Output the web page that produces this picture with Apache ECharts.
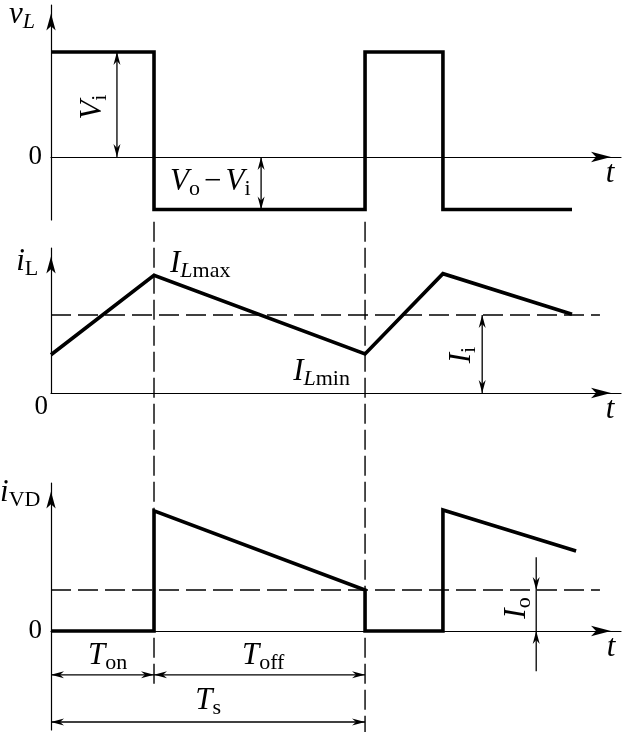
<!DOCTYPE html>
<html><head><meta charset="utf-8">
<script src="https://cdn.jsdelivr.net/npm/echarts@6/dist/echarts.min.js"></script>
<style>html,body{margin:0;padding:0;background:#fff}#c{width:625px;height:732px}</style>
</head><body><div id="c"></div>
<script>
// ---------------- data ----------------
const tOn = 3.28;          // end of T_on
const tS = 10.0;           // end of T_s
const tMax = 18.15;        // x-axis extent
const vLTime  = [0, 3.28, 3.28, 10.0, 10.0, 12.48, 12.48, 16.59];
const vLValue = [1, 1, -0.5, -0.5, 1, 1, -0.5, -0.5];
const iLTime  = [0, 3.28, 10.0, 12.48, 16.59];
const iLValue = [0.49, 1.51, 0.50, 1.53, 1.01];
const iLAvg = 1.0;         // I_i
const iVDTime  = [0, 3.28, 3.28, 10.0, 10.0, 12.48, 12.48, 16.72];
const iVDValue = [0, 0, 2.93, 1.0, 0, 0, 2.95, 1.95];
const iVDAvg = 1.0;        // I_o
const avgEnd = 17.48;
const zeroTick = [0];
const yRange1 = [-0.6, 1.448];
const yRange2 = [0, 1.859];
const yRange3 = [-2.415, 3.61];

// ---------------- styles ----------------
const F = 31, S = 22, P = 12;
const FONT = 'Liberation Serif';
const rich = {
  it:   {fontFamily: FONT, fontStyle: 'italic', fontSize: F, lineHeight: F, verticalAlign: 'top', fill: '#000'},
  rm:   {fontFamily: FONT, fontSize: F, lineHeight: F, verticalAlign: 'top', fill: '#000', padding: [0, 4, 0, 4]},
  sub:  {fontFamily: FONT, fontSize: S, lineHeight: S, verticalAlign: 'top', fill: '#000', padding: [P, 0, 0, 0]},
  subIt:{fontFamily: FONT, fontStyle: 'italic', fontSize: S, lineHeight: S, verticalAlign: 'top', fill: '#000', padding: [P, 0, 0, 0]}
};

const zip = (a, b) => a.map((v, i) => [v, b[i]]);

// annotation texts (positions in data units of each panel)
const texts1 = [
  {x: -1.34, y: 1.352, text: '{it|v}{subIt|L}'},
  {x: 17.8, y: -0.162, text: '{it|t}', align: 'center'},
  {x: 1.34, y: 0.476, text: '{it|V}{sub|i}', rotate: true},
  {x: 3.79, y: -0.238, text: '{it|V}{sub|o}{rm|−}{it|V}{sub|i}'}
];
const texts2 = [
  {x: -1.11, y: 1.679, text: '{it|i}{sub|L}'},
  {x: 3.79, y: 1.654, text: '{it|I}{subIt|L}{sub|max}'},
  {x: 7.71, y: 0.269, text: '{it|I}{subIt|L}{sub|min}'},
  {x: 13.09, y: 0.487, text: '{it|I}{sub|i}', rotate: true},
  {x: 17.8, y: -0.218, text: '{it|t}', align: 'center'}
];
const texts3 = [
  {x: -1.62, y: 3.366, text: '{it|i}{sub|VD}'},
  {x: 17.83, y: -0.415, text: '{it|t}', align: 'center'},
  {x: 14.84, y: 0.561, text: '{it|I}{sub|o}', rotate: true},
  {x: 1.18, y: -0.61, text: '{it|T}{sub|on}'},
  {x: 6.08, y: -0.61, text: '{it|T}{sub|off}'},
  {x: 4.59, y: -1.707, text: '{it|T}{sub|s}'}
];
// dimension arrows: [x1, y1, x2, y2, headAtStart, headAtEnd]
const arrows1 = [[2.10, 0, 2.10, vLValue[0], 1, 1], [6.69, 0, 6.69, vLValue[2], 1, 1]];
const arrows2 = [[13.73, 0, 13.73, iLAvg, 1, 1]];
const arrows3 = [
  [15.45, 1.8, 15.45, iVDAvg, 0, 1], [15.45, iVDAvg, 15.45, 0, 0, 0], [15.45, -0.98, 15.45, 0, 0, 1],
  [0, -1.07, tOn, -1.07, 1, 1], [tOn, -1.07, tS, -1.07, 1, 1], [0, -2.22, tS, -2.22, 1, 1]
];

function head(tip, from) {
  const dx = tip[0] - from[0], dy = tip[1] - from[1];
  const len = Math.hypot(dx, dy) || 1;
  const ux = dx / len, uy = dy / len, px = -uy, py = ux;
  const L = 13, W = 3.5, N = 9;
  return {type: 'polygon', shape: {points: [
    [tip[0], tip[1]],
    [tip[0] - ux * L + px * W, tip[1] - uy * L + py * W],
    [tip[0] - ux * N, tip[1] - uy * N],
    [tip[0] - ux * L - px * W, tip[1] - uy * L - py * W]
  ]}, style: {fill: '#000'}};
}
function arrowSeries(g, items) {
  return {type: 'custom', xAxisIndex: g, yAxisIndex: g, clip: false, silent: true,
    data: items, encode: {x: [0, 2], y: [1, 3]},
    renderItem: (params, api) => {
      const p1 = api.coord([api.value(0), api.value(1)]);
      const p2 = api.coord([api.value(2), api.value(3)]);
      const ch = [{type: 'line', shape: {x1: p1[0], y1: p1[1], x2: p2[0], y2: p2[1]}, style: {stroke: '#000', lineWidth: 1.3}}];
      if (api.value(4)) ch.push(head(p1, p2));
      if (api.value(5)) ch.push(head(p2, p1));
      return {type: 'group', children: ch};
    }};
}
function textSeries(g, items) {
  return {type: 'custom', xAxisIndex: g, yAxisIndex: g, clip: false, silent: true,
    data: items.map(a => [a.x, a.y]), encode: {x: 0, y: 1},
    renderItem: (params, api) => {
      const a = items[params.dataIndex];
      const p = api.coord([api.value(0), api.value(1)]);
      if (a.rotate) {
        return {type: 'text', x: p[0], y: p[1], rotation: Math.PI / 2,
          style: {text: a.text, rich: rich, align: 'center', verticalAlign: 'middle'}};
      }
      return {type: 'text', x: p[0], y: p[1] - F / 2,
        style: {text: a.text, rich: rich, align: a.align || 'left', verticalAlign: 'top'}};
    }};
}
const thick = {color: '#000', width: 3.6, join: 'miter'};
const dashH = {color: '#000', width: 1.4, type: [20, 7]};
const dashV = {color: '#000', width: 1.4, type: [20, 6]};
function lineSeries(g, data, style, extra) {
  return Object.assign({type: 'line', xAxisIndex: g, yAxisIndex: g, data: data, symbol: 'none',
    silent: true, animation: false, lineStyle: style}, extra || {});
}
const axisLineStyle = {color: '#000', width: 1.2};
function xAx(g) {
  return {type: 'value', gridIndex: g, min: 0, max: tMax,
    axisLine: {onZero: true, symbol: ['none', 'arrow'], symbolSize: [8, 20], symbolOffset: [0, -10], lineStyle: axisLineStyle},
    axisTick: {show: false}, axisLabel: {show: false}, splitLine: {show: false}};
}
function yAx(g, r, labelExtra) {
  return {type: 'value', gridIndex: g, min: r[0], max: r[1],
    axisLine: {show: true, onZero: true, symbol: ['none', 'arrow'], symbolSize: [7, 17], symbolOffset: [0, -8.5], lineStyle: axisLineStyle},
    axisTick: {show: false}, splitLine: {show: false},
    axisLabel: Object.assign({show: true, customValues: zeroTick, formatter: () => '0', color: '#000',
      fontFamily: FONT, fontSize: 27, margin: 9}, labelExtra || {})};
}

const chart = echarts.init(document.getElementById('c'), null, {renderer: 'canvas'});
chart.setOption({
  animation: false,
  backgroundColor: '#fff',
  grid: [
    {left: 51, top: 5, width: 570, height: 215},
    {left: 51, top: 248, width: 570, height: 145},
    {left: 51, top: 483, width: 570, height: 247}
  ],
  xAxis: [xAx(0), xAx(1), xAx(2)],
  yAxis: [yAx(0, yRange1), yAx(1, yRange2, {verticalAlign: 'top', margin: 3}), yAx(2, yRange3)],
  series: [
    lineSeries(0, zip(vLTime, vLValue), thick),
    lineSeries(1, zip(iLTime, iLValue), thick),
    lineSeries(1, [[0, iLAvg], [avgEnd, iLAvg]], dashH),
    lineSeries(2, zip(iVDTime, iVDValue), thick),
    lineSeries(2, [[0, iVDAvg], [avgEnd, iVDAvg]], dashH),
    lineSeries(2, [[tOn, 9.98], [tOn, -1.4]], dashV, {clip: false}),
    lineSeries(2, [[tS, 9.98], [tS, -2.5]], dashV, {clip: false}),
    arrowSeries(0, arrows1), arrowSeries(1, arrows2), arrowSeries(2, arrows3),
    textSeries(0, texts1), textSeries(1, texts2), textSeries(2, texts3)
  ]
});
</script>
</body></html>
